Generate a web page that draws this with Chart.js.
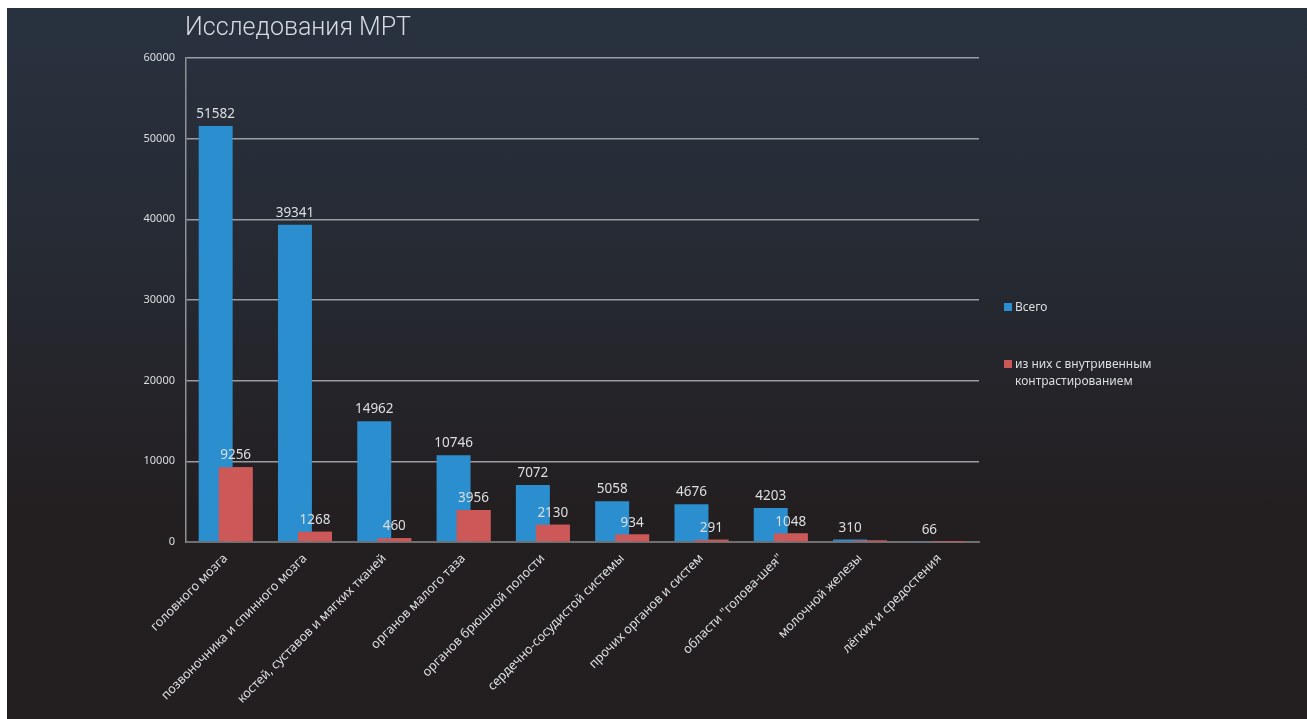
<!DOCTYPE html>
<html>
<head>
<meta charset="utf-8">
<script src="https://cdn.jsdelivr.net/npm/chart.js@4/dist/chart.umd.min.js"></script>
<style>
  html, body { margin: 0; padding: 0; background: #fff; }
  .chart-container {
    position: absolute; left: 7px; top: 8px; width: 1300px; height: 711px;
    background: linear-gradient(to bottom, #28323f 0%, #262a33 35%, #231f21 70%, #231f20 100%);
  }
</style>
</head>
<body>
<div class="chart-container">
  <canvas id="maingraph" width="1300" height="711"></canvas>
</div>
<script>
const chartTitle = 'Исследования МРТ';
const categories = [
  'головного мозга',
  'позвоночника и спинного мозга',
  'костей, суставов и мягких тканей',
  'органов малого таза',
  'органов брюшной полости',
  'сердечно-сосудистой системы',
  'прочих органов и систем',
  'области "голова-шея"',
  'молочной железы',
  'лёгких и средостения'
];
const totalValues = [51582, 39341, 14962, 10746, 7072, 5058, 4676, 4203, 310, 66];
const contrastValues = [9256, 1268, 460, 3956, 2130, 934, 291, 1048, 200, 20];
// the last two red bars carry no value label in the original
const contrastLabelShown = [true, true, true, true, true, true, true, true, false, false];
const seriesNames = ['Всего', 'из них с внутривенным контрастированием'];
const yTicks = [0, 10000, 20000, 30000, 40000, 50000, 60000];

const BLUE = '#2b8fcf';
const RED = '#cd5858';
const TEXT = '#dcdfe2';
const FONT = '"Noto Sans", "Open Sans", sans-serif';

// red bars overlap the blue ones, so draw red again on top + value labels
const overlayPlugin = {
  id: 'overlay',
  afterDatasetsDraw(chart) {
    const ctx = chart.ctx;
    chart.getDatasetMeta(1).controller.draw();
    ctx.save();
    ctx.font = '13.5px ' + FONT;
    ctx.fillStyle = TEXT;
    ctx.textAlign = 'center';
    ctx.textBaseline = 'bottom';
    chart.data.datasets.forEach((ds, di) => {
      const meta = chart.getDatasetMeta(di);
      meta.data.forEach((bar, i) => {
        if (di === 1 && !contrastLabelShown[i]) return;
        ctx.fillText(String(ds.data[i]), bar.x, bar.y - 5);
      });
    });
    ctx.restore();
  },
  afterDraw(chart) {
    const ctx = chart.ctx;
    const area = chart.chartArea;
    ctx.save();
    // title
    ctx.font = '300 25px Roboto, "Open Sans", sans-serif';
    ctx.fillStyle = '#d6dbe1';
    ctx.textAlign = 'left';
    ctx.textBaseline = 'middle';
    ctx.fillText(chartTitle, area.left - 1, 21);
    // legend
    ctx.font = '12px ' + FONT;
    ctx.textBaseline = 'middle';
    const lx = area.right + 25;
    const rows = [299, 356];
    chart.data.datasets.forEach((ds, di) => {
      const y = rows[di];
      ctx.fillStyle = ds.backgroundColor;
      ctx.fillRect(lx, y - 4, 8, 8);
      ctx.fillStyle = TEXT;
      // wrap long names
      const words = ds.label.split(' ');
      const lines = [];
      let cur = '';
      words.forEach(w => {
        const t = cur ? cur + ' ' + w : w;
        if (ctx.measureText(t).width > 150 && cur) { lines.push(cur); cur = w; }
        else cur = t;
      });
      lines.push(cur);
      lines.forEach((ln, k) => ctx.fillText(ln, lx + 11, y + 1 + k * 17));
    });
    ctx.restore();
  }
};

let ctx = document.getElementById('maingraph');
let myChart = new Chart(ctx, {
  type: 'bar',
  data: {
    labels: categories,
    datasets: [
      {
        label: seriesNames[0],
        data: totalValues,
        backgroundColor: BLUE,
        categoryPercentage: 0.504,
        barPercentage: 1.7
      },
      {
        label: seriesNames[1],
        data: contrastValues,
        backgroundColor: RED,
        categoryPercentage: 0.504,
        barPercentage: 1.7
      }
    ]
  },
  options: {
    responsive: false,
    animation: false,
    layout: { padding: { left: 119, right: 328, top: 50, bottom: 15 } },
    plugins: {
      legend: { display: false },
      title: { display: false },
      tooltip: { enabled: false }
    },
    scales: {
      x: {
        grid: { display: false, drawTicks: false },
        border: { display: true, color: '#6f6f70', width: 2 },
        ticks: {
          color: TEXT,
          font: { family: FONT, size: 12.7 },
          minRotation: 45,
          maxRotation: 45,
          padding: 9
        },
        afterFit(scale) { scale.height = 162; }
      },
      y: {
        min: 0,
        max: 60000,
        afterBuildTicks(scale) { scale.ticks = yTicks.map(v => ({ value: v })); },
        grid: { color: 'rgba(175,178,182,0.85)', lineWidth: 1.5, drawTicks: false },
        border: { display: true, color: '#8e9196', width: 1.5 },
        ticks: {
          color: TEXT,
          font: { family: FONT, size: 11 },
          padding: 11,
          callback: v => String(v)
        },
        afterFit(scale) { scale.width = 60; }
      }
    }
  },
  plugins: [overlayPlugin]
});
</script>
</body>
</html>
